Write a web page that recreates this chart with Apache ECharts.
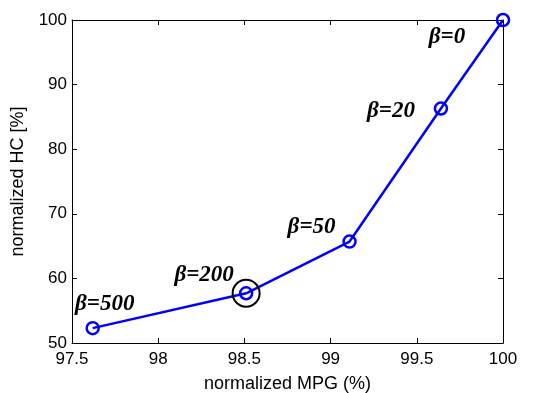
<!DOCTYPE html>
<html>
<head>
<meta charset="utf-8">
<style>
  html, body { margin: 0; padding: 0; background: #fff; }
  #chart { width: 553px; height: 393px; }
</style>
<script src="https://cdn.jsdelivr.net/npm/echarts@6/dist/echarts.min.js"></script>
</head>
<body>
<div id="chart"></div>
<script>
// Trade-off between fuel economy and HC emissions for several beta weights
const mpg = [97.62, 98.51, 99.11, 99.64, 100.0];
const hc = [52.3, 57.7, 65.7, 86.3, 100.0];
const betaLabels = ['β=500', 'β=200', 'β=50', 'β=20', 'β=0'];
const labelOffsets = [[12, -24], [-42, -18], [-38, -15], [-50, 3], [-56, 17]];
const highlightIndex = 1;

const xTicks = [97.5, 98, 98.5, 99, 99.5, 100];
const yTicks = [50, 60, 70, 80, 90, 100];

const chart = echarts.init(document.getElementById('chart'));

const axisCommon = {
  axisLine: { show: true, onZero: false, lineStyle: { color: '#000', width: 1 } },
  axisTick: { show: true, inside: true, length: 5, lineStyle: { color: '#000' } },
  splitLine: { show: false }
};

const pts = mpg.map((x, i) => ({
  value: [x, hc[i]],
  label: {
    show: true,
    formatter: betaLabels[i],
    position: 'inside',
    offset: labelOffsets[i],
    fontFamily: 'Liberation Serif',
    fontWeight: 'bold',
    fontStyle: 'italic',
    fontSize: 23,
    color: '#000'
  }
}));

chart.setOption({
  animation: false,
  backgroundColor: '#fff',
  grid: { left: 72, right: 50, top: 20, bottom: 50, outerBoundsMode: 'none', containLabel: false },
  xAxis: [
    Object.assign({
      type: 'value', min: 97.5, max: 100, interval: 0.5,
      name: 'normalized MPG (%)', nameLocation: 'middle', nameGap: 32,
      nameTextStyle: { fontFamily: 'Liberation Sans', fontSize: 18, color: '#000' },
      axisLabel: {
        fontFamily: 'Liberation Sans', fontSize: 17, color: '#000', margin: 8,
        formatter: v => (xTicks.includes(v) ? String(v) : '')
      }
    }, axisCommon),
    Object.assign({
      type: 'value', position: 'top', min: 97.5, max: 100, interval: 0.5,
      axisLabel: { show: false }
    }, axisCommon)
  ],
  yAxis: [
    Object.assign({
      type: 'value', min: 50, max: 100, interval: 10,
      name: 'normalized HC [%]', nameLocation: 'middle', nameGap: 45,
      nameTextStyle: { fontFamily: 'Liberation Sans', fontSize: 18, color: '#000' },
      axisLabel: {
        fontFamily: 'Liberation Sans', fontSize: 17, color: '#000', margin: 5,
        formatter: v => (yTicks.includes(v) ? String(v) : '')
      }
    }, axisCommon),
    Object.assign({
      type: 'value', position: 'right', min: 50, max: 100, interval: 10,
      axisLabel: { show: false }
    }, axisCommon)
  ],
  series: [
    {
      type: 'line',
      data: pts,
      symbol: 'circle',
      symbolSize: 12,
      showAllSymbol: true,
      lineStyle: { color: '#0000ff', width: 2.5 },
      itemStyle: { color: 'rgba(255,255,255,0)', borderColor: '#0000ff', borderWidth: 2.5, opacity: 1 },
      clip: false,
      z: 3
    },
    {
      type: 'scatter',
      data: [[mpg[highlightIndex], hc[highlightIndex]]],
      symbol: 'circle',
      symbolSize: 27,
      itemStyle: { color: 'rgba(0,0,0,0)', borderColor: '#000', borderWidth: 2, opacity: 1 },
      silent: true,
      z: 4
    }
  ]
});
</script>
</body>
</html>
